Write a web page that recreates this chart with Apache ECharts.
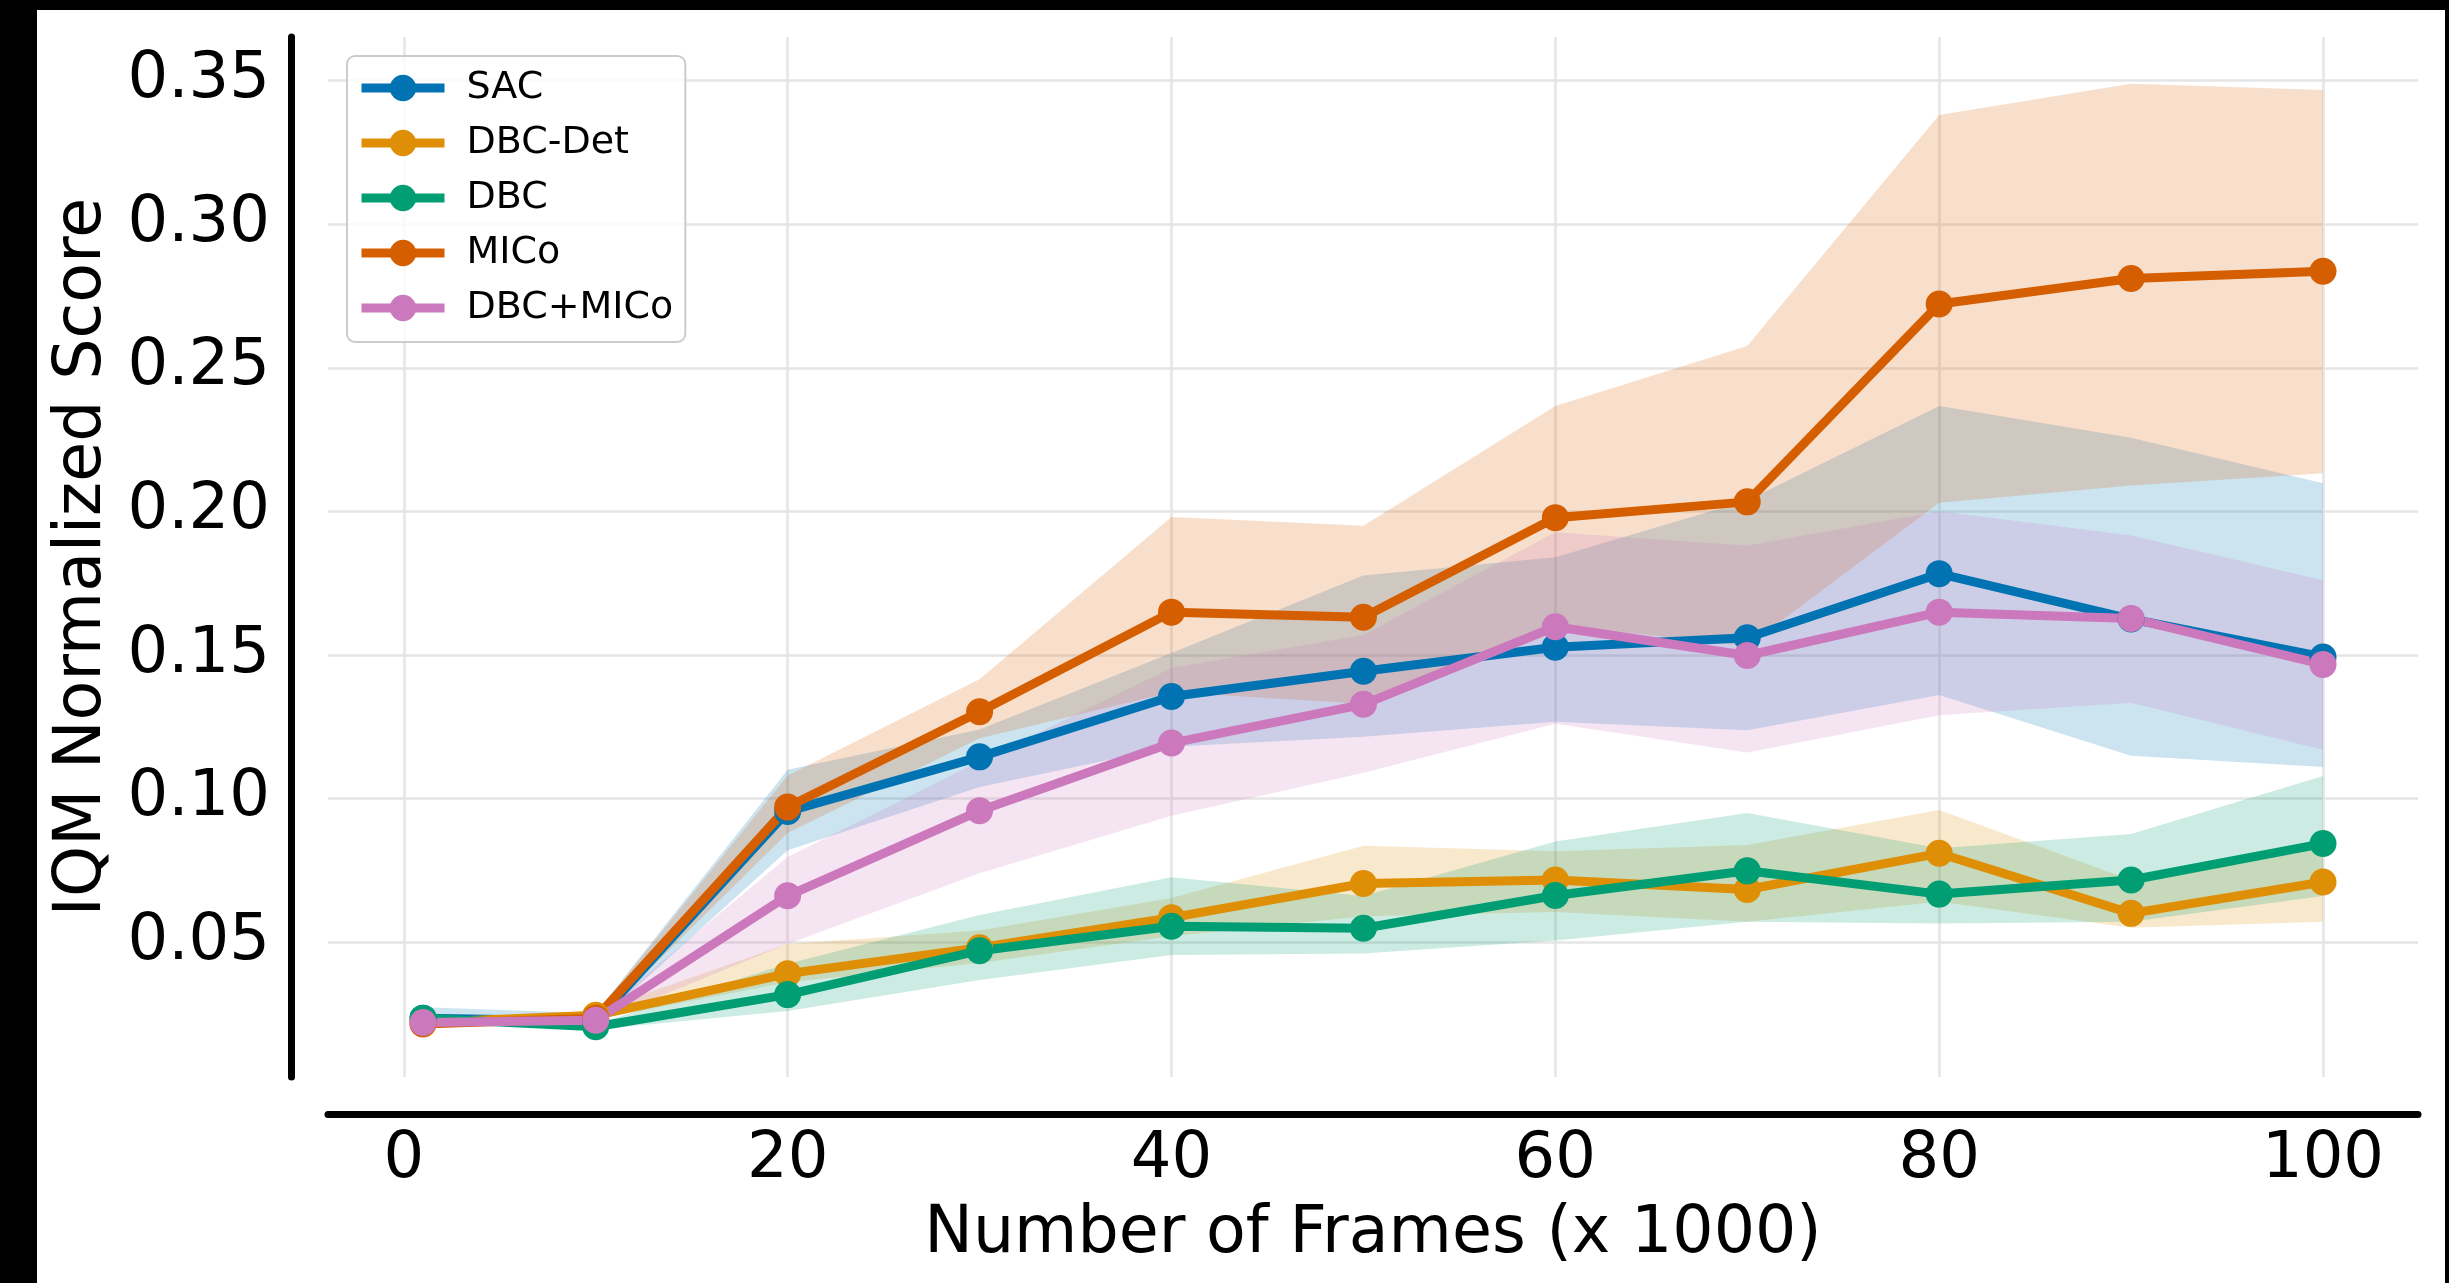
<!DOCTYPE html>
<html>
<head>
<meta charset="utf-8">
<script src="https://cdn.jsdelivr.net/npm/echarts@6/dist/echarts.min.js"></script>
<style>
  html, body { margin: 0; padding: 0; background: #000; width: 2449px; height: 1283px; overflow: hidden; }
  #c { position: absolute; left: 37px; top: 10px; width: 2408px; height: 1273px; background: #fff; }
</style>
</head>
<body>
<div id="c"></div>
<script>
// ---- data ----
const FRAMES = [1, 10, 20, 30, 40, 50, 60, 70, 80, 90, 100];
const X_TICKS = [0, 20, 40, 60, 80, 100];
const Y_TICKS = [0.05, 0.10, 0.15, 0.20, 0.25, 0.30, 0.35];

const SERIES_NAMES = ['SAC', 'DBC-Det', 'DBC', 'MICo', 'DBC+MICo'];

const SAC_MEAN  = [0.0235, 0.0225, 0.0955, 0.1145, 0.1355, 0.1443, 0.1527, 0.1560, 0.1783, 0.1625, 0.1493];
const SAC_LOW   = [0.0215, 0.0215, 0.0820, 0.1040, 0.1180, 0.1215, 0.1267, 0.1238, 0.1360, 0.1149, 0.1110];
const SAC_HIGH  = [0.0273, 0.0252, 0.1100, 0.1240, 0.1507, 0.1777, 0.1840, 0.2038, 0.2367, 0.2256, 0.2098];

const DET_MEAN  = [0.0220, 0.0245, 0.0390, 0.0480, 0.0585, 0.0704, 0.0716, 0.0683, 0.0809, 0.0600, 0.0709];
const DET_LOW   = [0.0210, 0.0230, 0.0360, 0.0427, 0.0520, 0.0590, 0.0605, 0.0571, 0.0640, 0.0550, 0.0571];
const DET_HIGH  = [0.0230, 0.0260, 0.0493, 0.0540, 0.0653, 0.0835, 0.0816, 0.0838, 0.0960, 0.0716, 0.0850];

const DBC_MEAN  = [0.0235, 0.0205, 0.0317, 0.0470, 0.0555, 0.0548, 0.0662, 0.0748, 0.0667, 0.0716, 0.0843];
const DBC_LOW   = [0.0220, 0.0195, 0.0260, 0.0368, 0.0455, 0.0460, 0.0505, 0.0571, 0.0565, 0.0571, 0.0660];
const DBC_HIGH  = [0.0250, 0.0215, 0.0424, 0.0594, 0.0726, 0.0660, 0.0850, 0.0949, 0.0827, 0.0876, 0.1078];

const MICO_MEAN = [0.0215, 0.0235, 0.0970, 0.1302, 0.1649, 0.1631, 0.1978, 0.2033, 0.2722, 0.2811, 0.2836];
const MICO_LOW  = [0.0205, 0.0220, 0.0880, 0.1210, 0.1370, 0.1330, 0.1607, 0.1530, 0.2030, 0.2090, 0.2133];
const MICO_HIGH = [0.0225, 0.0250, 0.1080, 0.1415, 0.1980, 0.1950, 0.2367, 0.2576, 0.3380, 0.3489, 0.3467];

const DM_MEAN   = [0.0220, 0.0228, 0.0661, 0.0957, 0.1193, 0.1328, 0.1598, 0.1498, 0.1649, 0.1627, 0.1467];
const DM_LOW    = [0.0210, 0.0220, 0.0493, 0.0740, 0.0940, 0.1090, 0.1260, 0.1160, 0.1290, 0.1333, 0.1170];
const DM_HIGH   = [0.0230, 0.0240, 0.0796, 0.1130, 0.1454, 0.1569, 0.1927, 0.1880, 0.2000, 0.1916, 0.1760];

// ---- styling ----
const COLORS = ['#0173b2', '#de8f05', '#029e73', '#d55e00', '#cc78bc'];
const MEANS = [SAC_MEAN, DET_MEAN, DBC_MEAN, MICO_MEAN, DM_MEAN];
const LOWS  = [SAC_LOW, DET_LOW, DBC_LOW, MICO_LOW, DM_LOW];
const HIGHS = [SAC_HIGH, DET_HIGH, DBC_HIGH, MICO_HIGH, DM_HIGH];
const FONT = 'DejaVu Sans';
const LINE_W = 9;

const series = [];
SERIES_NAMES.forEach((n, i) => {
  series.push({
    type: 'custom', name: n + ' band', silent: true, z: 1,
    data: FRAMES.map((x, j) => [x, LOWS[i][j], HIGHS[i][j]]),
    encode: { x: 0, y: [1, 2] },
    renderItem: (params, api) => {
      if (params.dataIndex !== 0) return null;
      const top = [], bot = [];
      for (let j = 0; j < FRAMES.length; j++) {
        top.push(api.coord([FRAMES[j], HIGHS[i][j]]));
        bot.push(api.coord([FRAMES[j], LOWS[i][j]]));
      }
      return {
        type: 'polygon',
        shape: { points: top.concat(bot.reverse()) },
        style: { fill: COLORS[i], opacity: 0.2 }
      };
    }
  });
});
SERIES_NAMES.forEach((n, i) => {
  series.push({
    type: 'line', name: n,
    data: FRAMES.map((x, j) => [x, MEANS[i][j]]),
    symbol: 'circle', symbolSize: 27, showSymbol: true,
    lineStyle: { color: COLORS[i], width: LINE_W },
    itemStyle: { color: COLORS[i], borderWidth: 0 },
    z: 3
  });
});

const chart = echarts.init(document.getElementById('c'), null, { renderer: 'canvas' });
chart.setOption({
  animation: false,
  backgroundColor: '#ffffff',
  grid: { left: 291, top: 27, width: 2090, height: 1040, containLabel: false },
  xAxis: {
    type: 'value', min: -3.95, max: 104.95, offset: 37,
    name: 'Number of Frames (x 1000)', nameLocation: 'middle', nameGap: 89,
    nameTextStyle: { fontSize: 65, color: '#000', fontFamily: FONT },
    axisLine: { show: true, onZero: false, lineStyle: { color: '#000', width: 7 } },
    axisTick: { show: false, customValues: X_TICKS },
    axisLabel: { customValues: X_TICKS, margin: 14, fontSize: 64, color: '#000', fontFamily: FONT,
                 formatter: v => String(Math.round(v)) },
    splitLine: { show: true, lineStyle: { color: '#e5e5e5', width: 2.5 } }
  },
  yAxis: {
    type: 'value', min: 0.003, max: 0.3652, offset: 37,
    name: 'IQM Normalized Score', nameLocation: 'middle', nameRotate: 90, nameGap: 175,
    nameTextStyle: { fontSize: 65, color: '#000', fontFamily: FONT },
    axisLine: { show: true, onZero: false, lineStyle: { color: '#000', width: 7 } },
    axisTick: { show: false, customValues: Y_TICKS },
    axisLabel: { customValues: Y_TICKS, margin: 21, fontSize: 64, color: '#000', fontFamily: FONT,
                 formatter: v => v.toFixed(2) },
    splitLine: { show: true, lineStyle: { color: '#e5e5e5', width: 2.5 } }
  },
  legend: {
    data: SERIES_NAMES, orient: 'vertical', left: 310, top: 46,
    itemWidth: 83, itemHeight: 33, itemGap: 17,
    padding: [13, 12, 15, 10],
    lineStyle: { width: LINE_W },
    backgroundColor: 'rgba(255,255,255,0.8)', borderColor: '#cccccc', borderWidth: 2, borderRadius: 8,
    textStyle: { fontSize: 38, color: '#000', fontFamily: FONT, padding: [0, 0, 0, 17] }
  },
  series: series
});
</script>
</body>
</html>
